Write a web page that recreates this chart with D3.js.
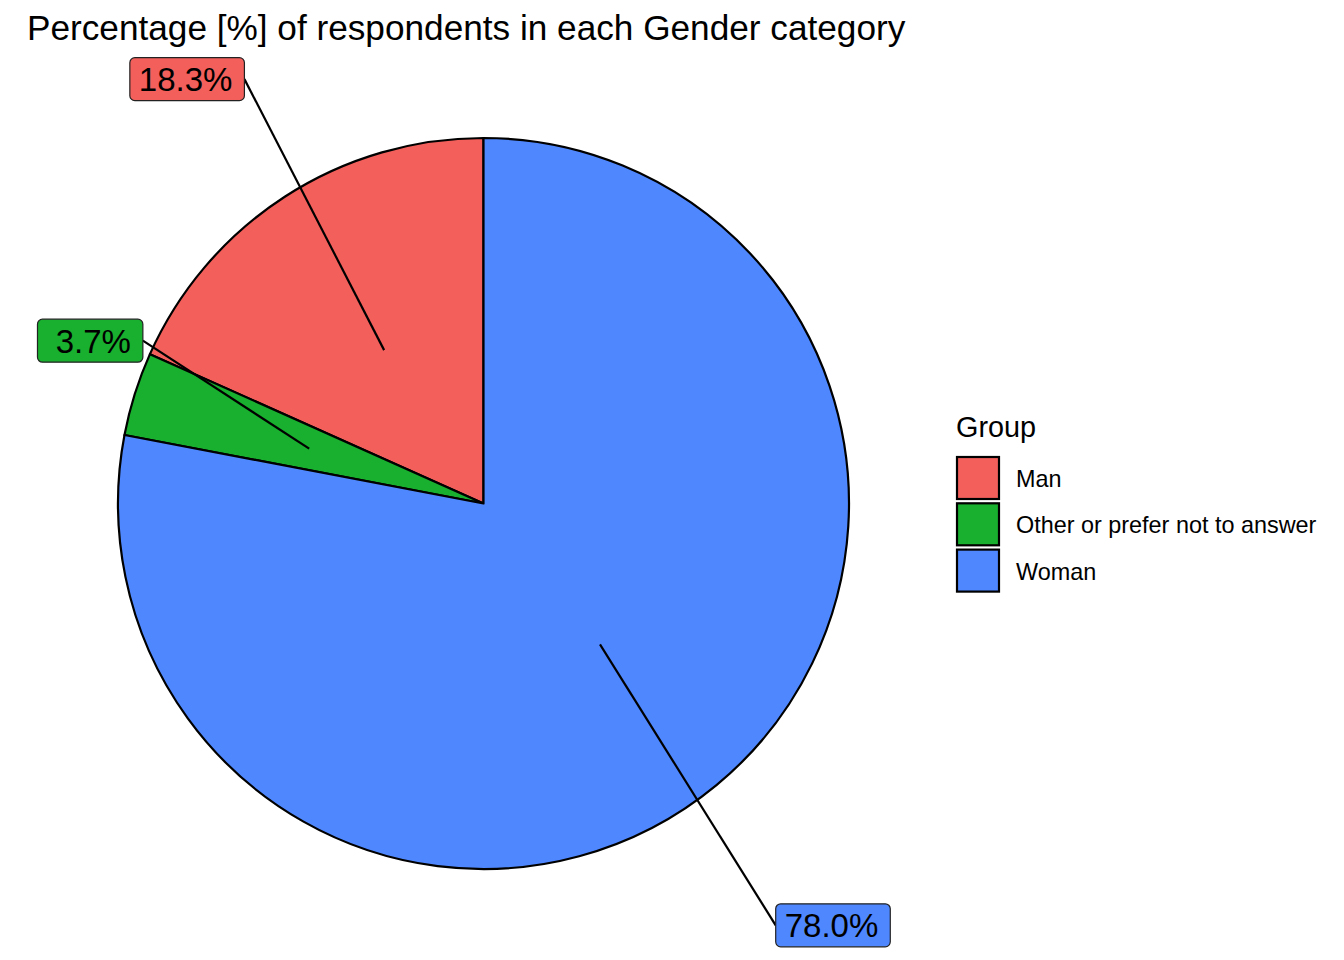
<!DOCTYPE html>
<html>
<head>
<meta charset="utf-8">
<title>Gender pie</title>
<script src="https://d3js.org/d3.v7.min.js"></script>
<style>
  body { margin: 0; background: #fff; }
  text { font-family: "Liberation Sans", Arial, Helvetica, sans-serif; }
</style>
</head>
<body>
<svg id="chart" width="1344" height="960"></svg>
<script>
// data
var groups = ["Man", "Other or prefer not to answer", "Woman"];
var percents = [18.3, 3.7, 78.0];
var colors = ["#F35F5B", "#18B02E", "#4F87FF"];
// drawing order round the pie (clockwise from 12 o'clock)
var sliceOrder = ["Woman", "Other or prefer not to answer", "Man"];
// repel offsets of the labels from their anchor points (px)
var labelNudge = [[-197, -271], [-219, -108], [233, 281]];

var svg = d3.select("#chart");
var cx = 483.5, cy = 503.5, R = 365.5;

var fill = d3.scaleOrdinal().domain(groups).range(colors);

var data = groups.map(function (g, i) { return { group: g, value: percents[i], nudge: labelNudge[i] }; });
var pie = d3.pie()
    .value(function (d) { return d.value; })
    .sort(function (a, b) { return sliceOrder.indexOf(a.group) - sliceOrder.indexOf(b.group); });
var arcs = pie(data);
var arc = d3.arc().innerRadius(0).outerRadius(R);

var g = svg.append("g").attr("transform", "translate(" + cx + "," + cy + ")");
g.selectAll("path.slice")
    .data(arcs)
    .join("path")
    .attr("class", "slice")
    .attr("d", arc)
    .attr("fill", function (d) { return fill(d.data.group); })
    .attr("stroke", "#000")
    .attr("stroke-width", 2.2)
    .attr("stroke-linejoin", "round");

// title
svg.append("text")
    .attr("x", 27).attr("y", 40)
    .attr("font-size", 35.2)
    .text("Percentage [%] of respondents in each Gender category");

// labels (ggrepel style)
var labelArc = d3.arc().innerRadius(R / 2).outerRadius(R / 2);
var lab = svg.append("g");
arcs.forEach(function (d) {
    var c = labelArc.centroid(d);
    var ax = cx + c[0], ay = cy + c[1];
    var lx = ax + d.data.nudge[0], ly = ay + d.data.nudge[1];
    var str = d.data.value.toFixed(1).padStart(4, " ") + "%";

    var grp = lab.append("g");
    var line = grp.append("line");
    var rect = grp.append("rect");
    var t = grp.append("text")
        .attr("font-size", 33)
        .attr("text-anchor", "end")
        .style("white-space", "pre")
        .text(str);
    var w = t.node().getComputedTextLength() + 21;
    var h = 43;
    var x0 = lx - w / 2, y0 = ly - h / 2;
    rect.attr("x", x0).attr("y", y0).attr("width", w).attr("height", h)
        .attr("rx", 5).attr("ry", 5)
        .attr("fill", fill(d.data.group))
        .attr("stroke", "#222").attr("stroke-width", 1.2);
    t.attr("x", x0 + w - 12).attr("y", ly + 12);

    var sx, sy;
    if (ax > x0 + w) { sx = x0 + w; sy = ly; }
    else if (ax < x0) { sx = x0; sy = ly; }
    else { sx = ax; sy = ay > ly ? y0 + h : y0; }
    line.attr("x1", sx).attr("y1", sy).attr("x2", ax).attr("y2", ay)
        .attr("stroke", "#000").attr("stroke-width", 2.2);
});

// legend
var leg = svg.append("g").attr("transform", "translate(956,0)");
leg.append("text").attr("x", 0).attr("y", 437).attr("font-size", 28.8).text("Group");
var key = leg.selectAll("g.key")
    .data(groups)
    .join("g")
    .attr("class", "key")
    .attr("transform", function (d, i) { return "translate(0," + (457 + i * 46.3) + ")"; });
key.append("rect")
    .attr("x", 1).attr("y", 0).attr("width", 42).attr("height", 42)
    .attr("fill", function (d) { return fill(d); })
    .attr("stroke", "#000").attr("stroke-width", 2.2);
key.append("text")
    .attr("x", 60).attr("y", 30)
    .attr("font-size", 23.4)
    .text(function (d) { return d; });
</script>
</body>
</html>
